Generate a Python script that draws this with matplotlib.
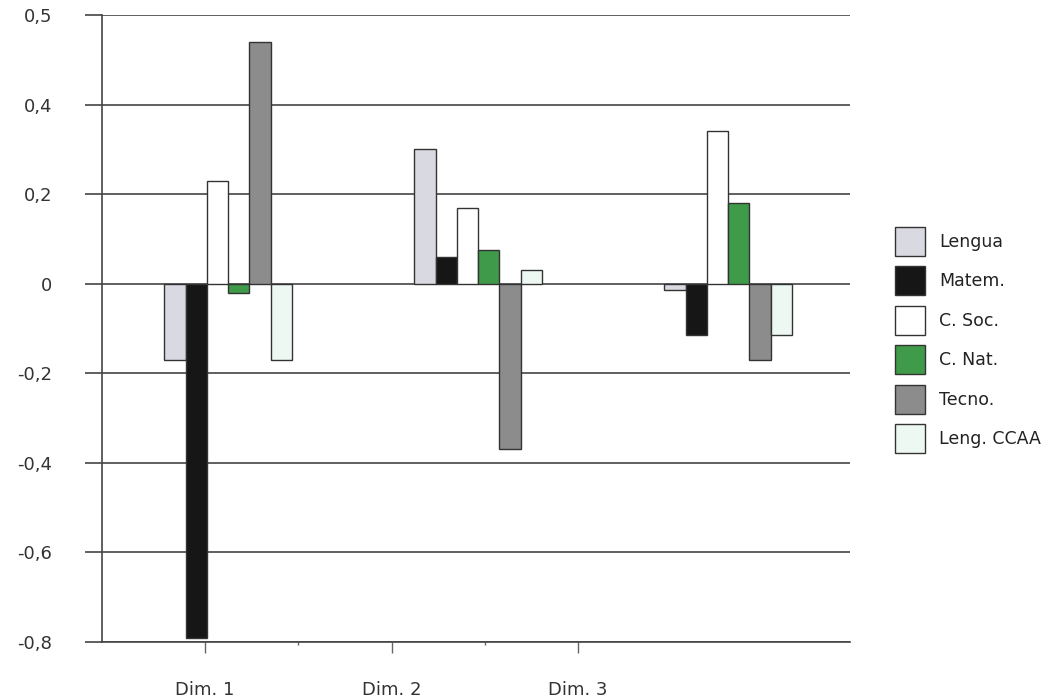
import numpy as np
import matplotlib
matplotlib.use("Agg")
import matplotlib.pyplot as plt
from matplotlib.patches import Patch

# datos
dims = ["Dim. 1", "Dim. 2", "Dim. 3"]
series = ["Lengua", "Matem.", "C. Soc.", "C. Nat.", "Tecno.", "Leng. CCAA"]
lengua = [-0.17, 0.30, -0.015]
matem = [-0.79, 0.06, -0.115]
c_soc = [0.23, 0.17, 0.34]
c_nat = [-0.02, 0.075, 0.18]
tecno = [0.54, -0.37, -0.17]
leng_ccaa = [-0.17, 0.03, -0.115]
y_ticks = [0.6, 0.4, 0.2, 0.0, -0.2, -0.4, -0.6, -0.8]
y_labels = ["0,5", "0,4", "0,2", "0", "-0,2", "-0,4", "-0,6", "-0,8"]

values = [lengua, matem, c_soc, c_nat, tecno, leng_ccaa]
colors = ["#d9d9e1", "#161616", "#ffffff", "#3f9b4a", "#8c8c8c", "#eef8f3"]

fig = plt.figure(figsize=(10.55, 7), dpi=100)
ax = fig.add_axes([102 / 1055, 1 - 642 / 700, 748 / 1055, 627 / 700])

x = np.arange(len(dims))
w = 0.085
for i, (vals, col) in enumerate(zip(values, colors)):
    ax.bar(x + (i - 2.5) * w, vals, w, color=col, edgecolor="#333333",
           linewidth=1.0, zorder=3)

ax.set_ylim(-0.8, 0.6)
ax.set_xlim(-0.504, 2.488)
ax.set_yticks(y_ticks)
ax.set_yticklabels(y_labels, fontsize=13, color="#333333")
ax.yaxis.grid(True, color="#444444", linewidth=1.2, zorder=0)
ax.tick_params(axis="y", length=12, width=1.2, color="#444444", pad=24)

# las marcas del eje x no coinciden con los grupos en el original
ax.set_xticks([-0.092, 0.656, 1.4])
ax.set_xticklabels(dims, fontsize=13, color="#333333")
ax.set_xticks([0.28, 1.028], minor=True)
ax.tick_params(axis="x", which="major", length=8, width=1, color="#666666", pad=20)
ax.tick_params(axis="x", which="minor", length=2, width=1, color="#666666")

for s in ["top", "right"]:
    ax.spines[s].set_visible(False)
ax.spines["left"].set_color("#444444")
ax.spines["left"].set_linewidth(1.2)
ax.spines["bottom"].set_color("#444444")
ax.spines["bottom"].set_linewidth(1.2)

handles = [Patch(facecolor=c, edgecolor="#333333", linewidth=1.0) for c in colors]
fig.legend(handles, series, loc="upper left",
           bbox_to_anchor=(886 / 1055, 1 - 218 / 700), frameon=False,
           fontsize=12.5, handlelength=1.75, handleheight=2.2,
           handletextpad=0.8, labelspacing=0.6, borderpad=0,
           labelcolor="#222222")

fig.savefig("out.png", dpi=100)
